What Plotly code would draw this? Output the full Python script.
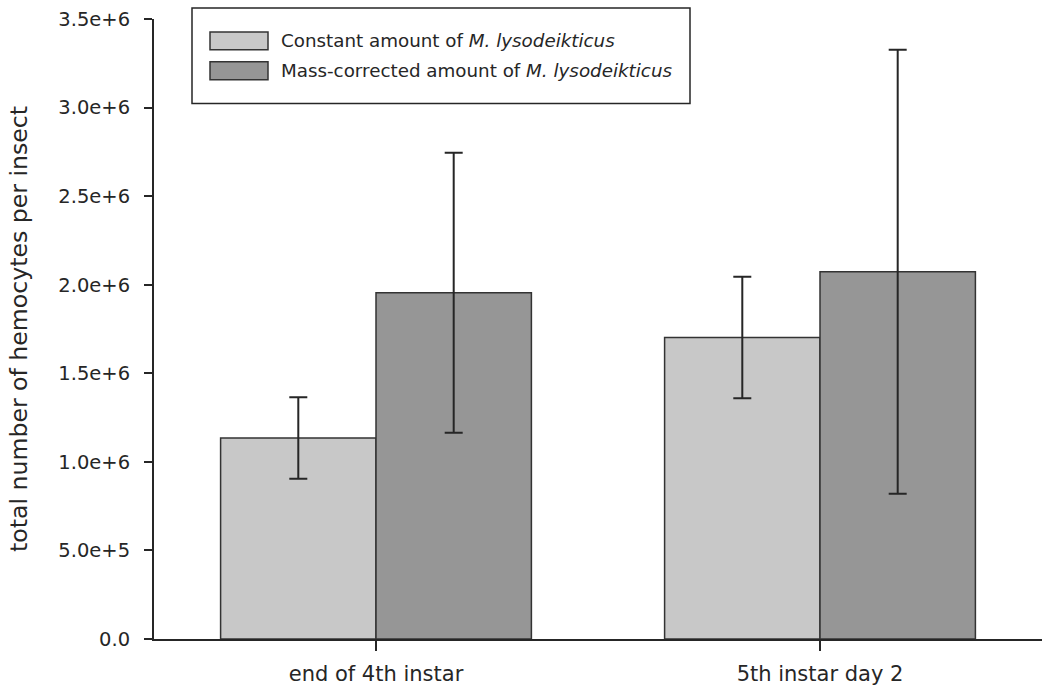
import plotly.graph_objects as go

# data
stages = ["end of 4th instar", "5th instar day 2"]
constant_mean = [1.135e6, 1.702e6]
constant_err = [0.23e6, 0.343e6]
corrected_mean = [1.955e6, 2.073e6]
corrected_err = [0.79e6, 1.253e6]

series_names = ["Constant amount of <i>M. lysodeikticus</i>",
                "Mass-corrected amount of <i>M. lysodeikticus</i>"]
series_colors = ["#c8c8c8", "#969696"]

y_ticks = [0, 5e5, 1e6, 1.5e6, 2e6, 2.5e6, 3e6, 3.5e6]
y_tick_labels = ["0.0", "5.0e+5", "1.0e+6", "1.5e+6", "2.0e+6", "2.5e+6", "3.0e+6", "3.5e+6"]

FONT = "DejaVu Sans"
INK = "#262626"

fig = go.Figure()

for name, color, mean, err in zip(series_names, series_colors,
                                  [constant_mean, corrected_mean],
                                  [constant_err, corrected_err]):
    fig.add_trace(go.Bar(
        x=stages, y=mean, name=name,
        marker=dict(color=color, line=dict(color="#333333", width=1.5)),
        error_y=dict(type="data", array=err, visible=True,
                     color=INK, thickness=2, width=9),
        showlegend=False,
    ))

# plot area in page pixels
W, H, L, T = 888, 623, 154, 18
def px(x):
    return (x - L) / W
def py(y):
    return (T + H - y) / H

# legend drawn by hand (box with wide swatches)
shapes = [dict(type="rect", xref="paper", yref="paper",
               x0=px(192), x1=px(690), y0=py(103), y1=py(7),
               line=dict(color=INK, width=1.5), fillcolor="white", layer="above")]
annotations = []
for i, (name, color) in enumerate(zip(series_names, series_colors)):
    top = 31 + i * 30
    shapes.append(dict(type="rect", xref="paper", yref="paper",
                       x0=px(210), x1=px(268), y0=py(top + 18), y1=py(top),
                       line=dict(color="#333333", width=1.5), fillcolor=color, layer="above"))
    annotations.append(dict(xref="paper", yref="paper", x=px(279), y=py(top + 9),
                            text=name, showarrow=False, xanchor="left", yanchor="middle",
                            font=dict(family=FONT, size=18.3, color=INK)))

fig.update_layout(
    width=1050, height=694,
    margin=dict(l=L, r=1050 - L - W, t=T, b=694 - T - H),
    plot_bgcolor="white", paper_bgcolor="white",
    barmode="group", bargap=0.3, bargroupgap=0,
    font=dict(family=FONT, size=20, color=INK),
    shapes=shapes, annotations=annotations,
)
fig.update_xaxes(
    range=[-0.5, 1.5], showline=True, linecolor=INK, linewidth=2,
    ticks="outside", ticklen=10, tickwidth=2, tickcolor=INK,
    showgrid=False, zeroline=False, tickfont=dict(size=21),
    ticklabelstandoff=5,
)
fig.update_yaxes(
    range=[0, 3.5e6], showline=True, linecolor=INK, linewidth=2,
    tickvals=y_ticks, ticktext=y_tick_labels,
    ticks="outside", ticklen=8, tickwidth=2, tickcolor=INK,
    showgrid=False, zeroline=False, tickfont=dict(size=19.5),
    ticklabelstandoff=10,
    title=dict(text="total number of hemocytes per insect", font=dict(size=23.6), standoff=24),
)

# drop the default body margin so the figure sits at the page corner
fig.write_html("out.html", config={"displayModeBar": False},
               post_script="document.body.style.margin='0';")
